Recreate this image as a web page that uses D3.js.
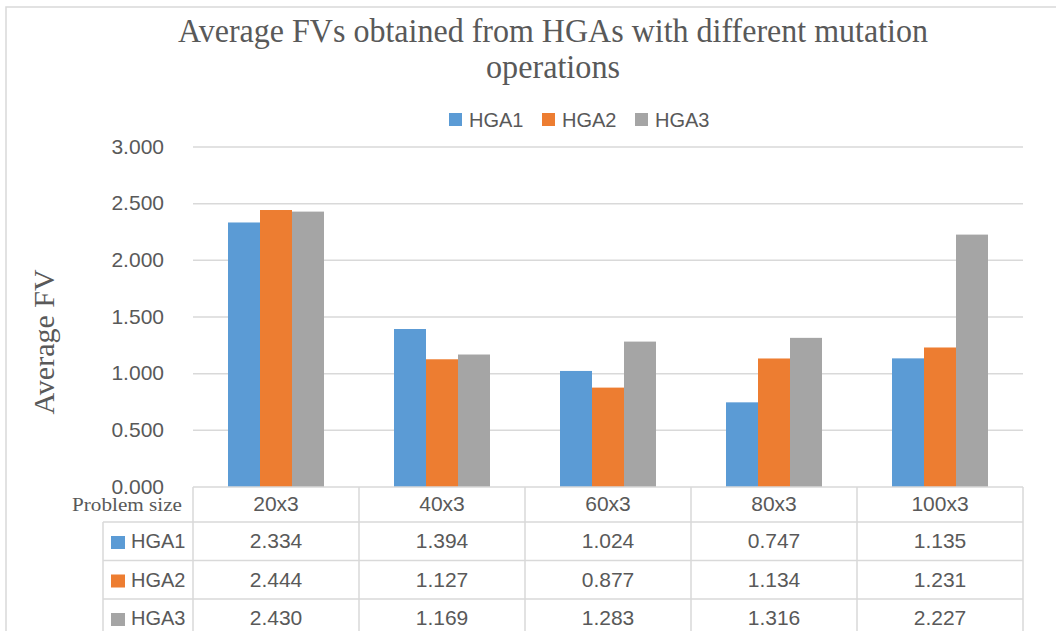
<!DOCTYPE html>
<html>
<head>
<meta charset="utf-8">
<script src="https://cdn.jsdelivr.net/npm/d3@7"></script>
<style>
  body { margin: 0; background: #fff; }
</style>
</head>
<body>
<div id="chart"></div>
<script>
// chart values
var categories = ["20x3", "40x3", "60x3", "80x3", "100x3"];
var seriesNames = ["HGA1", "HGA2", "HGA3"];
var hga1 = [2.334, 1.394, 1.024, 0.747, 1.135];
var hga2 = [2.444, 1.127, 0.877, 1.134, 1.231];
var hga3 = [2.430, 1.169, 1.283, 1.316, 2.227];
var yTicks = [0, 0.5, 1, 1.5, 2, 2.5, 3];

var colors = ["#5b9bd5", "#ed7d31", "#a5a5a5"];
var seriesValues = [hga1, hga2, hga3];

var W = 1056, H = 631;
var grid = "#d9d9d9", textCol = "#595959";
var sans = "'Liberation Sans', Arial, sans-serif";
var serif = "'Liberation Serif', 'Times New Roman', serif";

var svg = d3.select("#chart").append("svg")
  .attr("width", W).attr("height", H);

// outer chart frame (runs off the right/bottom edge)
svg.append("rect")
  .attr("x", 6).attr("y", 7).attr("width", 1200).attr("height", 800)
  .attr("fill", "#fff").attr("stroke", grid).attr("stroke-width", 1.5);

// scales
var x0 = d3.scaleBand().domain(categories).range([193, 1023]);
var x1 = d3.scaleBand().domain(seriesNames).range([0, x0.bandwidth()])
  .paddingInner(0).paddingOuter(1.094);
var y = d3.scaleLinear().domain([0, 3]).range([487, 147]);

// gridlines
svg.append("g").selectAll("line").data(yTicks.slice(1)).enter().append("line")
  .attr("x1", 193).attr("x2", 1023)
  .attr("y1", d => y(d)).attr("y2", d => y(d))
  .attr("stroke", grid).attr("stroke-width", 1.5);

// y axis labels
var yAxis = d3.axisLeft(y).tickValues(yTicks).tickSize(0).tickPadding(0)
  .tickFormat(d3.format(".3f"));
var ya = svg.append("g").attr("transform", "translate(164,0)").call(yAxis);
ya.select(".domain").remove();
ya.selectAll("text").attr("font-family", sans).attr("font-size", 21)
  .attr("fill", textCol).attr("dy", "0.3em");

// bars
var groups = svg.append("g").selectAll("g").data(categories).enter().append("g")
  .attr("transform", d => "translate(" + x0(d) + ",0)");
groups.selectAll("rect")
  .data((c, i) => seriesNames.map((s, j) => ({ s: s, j: j, v: seriesValues[j][i] })))
  .enter().append("rect")
  .attr("x", d => x1(d.s)).attr("width", x1.bandwidth())
  .attr("y", d => y(d.v)).attr("height", d => y(0) - y(d.v))
  .attr("fill", d => colors[d.j]);

// title
var title = svg.append("g").attr("font-family", serif).attr("fill", textCol)
  .attr("text-anchor", "middle");
title.append("text").attr("x", 553).attr("y", 42).attr("font-size", 33)
  .attr("textLength", 750).attr("lengthAdjust", "spacingAndGlyphs")
  .text("Average FVs obtained from HGAs with different mutation");
title.append("text").attr("x", 553).attr("y", 78).attr("font-size", 33)
  .attr("textLength", 134).attr("lengthAdjust", "spacingAndGlyphs")
  .text("operations");

// legend
var legendX = [449, 542, 635];
var legend = svg.append("g").selectAll("g").data(seriesNames).enter().append("g")
  .attr("transform", (d, i) => "translate(" + legendX[i] + ",113)");
legend.append("rect").attr("width", 13).attr("height", 13)
  .attr("fill", (d, i) => colors[i]);
legend.append("text").attr("x", 20).attr("y", 14)
  .attr("font-family", sans).attr("font-size", 20).attr("fill", textCol)
  .text(d => d);

// y title
svg.append("text")
  .attr("transform", "translate(54,342) rotate(-90)")
  .attr("text-anchor", "middle").attr("font-family", serif)
  .attr("font-size", 30).attr("fill", textCol).text("Average FV");

// data table
var rowY = [487, 522, 560.5, 599, 637.5];
var tbl = svg.append("g");
// horizontal lines
tbl.selectAll("line.h").data(rowY.slice(0, 4)).enter().append("line")
  .attr("x1", (d, i) => i === 0 ? 193 : 103).attr("x2", 1023)
  .attr("y1", d => d).attr("y2", d => d)
  .attr("stroke", grid).attr("stroke-width", 1.5);
// vertical lines
var colEdges = categories.map(c => x0(c)).concat([x0.range()[1]]);
tbl.selectAll("line.v").data(colEdges).enter().append("line")
  .attr("x1", d => d).attr("x2", d => d).attr("y1", 487).attr("y2", H)
  .attr("stroke", grid).attr("stroke-width", 1.5);
tbl.append("line").attr("x1", 103).attr("x2", 103).attr("y1", 522).attr("y2", H)
  .attr("stroke", grid).attr("stroke-width", 1.5);

// header row
tbl.append("text").attr("x", 182).attr("y", 511).attr("text-anchor", "end")
  .attr("font-family", serif).attr("font-size", 19).attr("fill", textCol)
  .attr("textLength", 110).attr("lengthAdjust", "spacingAndGlyphs")
  .text("Problem size");
tbl.selectAll("text.cat").data(categories).enter().append("text")
  .attr("x", d => x0(d) + x0.bandwidth() / 2).attr("y", 511)
  .attr("text-anchor", "middle").attr("font-family", sans).attr("font-size", 21)
  .attr("fill", textCol).text(d => d);

// series rows
seriesNames.forEach(function(s, j) {
  var base = rowY[j + 1] + 26;
  tbl.append("rect").attr("x", 111).attr("y", base - 12).attr("width", 14).attr("height", 13)
    .attr("fill", colors[j]);
  tbl.append("text").attr("x", 131).attr("y", base).attr("font-family", sans)
    .attr("font-size", 20).attr("fill", textCol).text(s);
  tbl.selectAll("text.v" + j).data(seriesValues[j]).enter().append("text")
    .attr("x", (d, i) => x0(categories[i]) + x0.bandwidth() / 2).attr("y", base)
    .attr("text-anchor", "middle").attr("font-family", sans).attr("font-size", 21)
    .attr("fill", textCol).text(d => d3.format(".3f")(d));
});
</script>
</body>
</html>
